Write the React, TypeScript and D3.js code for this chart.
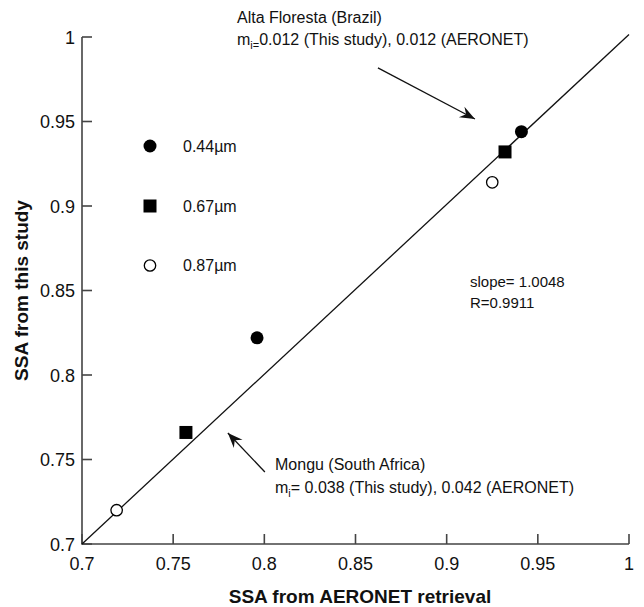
import React from 'react';
import * as d3 from 'd3';

// SSA values (x: AERONET retrieval, y: this study)
const aeronet044 = [0.796, 0.941];
const study044 = [0.822, 0.944];
const aeronet067 = [0.757, 0.932];
const study067 = [0.766, 0.932];
const aeronet087 = [0.719, 0.925];
const study087 = [0.72, 0.914];

const tickValues = [0.7, 0.75, 0.8, 0.85, 0.9, 0.95, 1];
const legendLabels = ['0.44\u00b5m', '0.67\u00b5m', '0.87\u00b5m'];
const legendY = [0.9355, 0.9, 0.8648];

const slope = 1.0048;
const rValue = 0.9911;

const W = 644;
const H = 607;
const FONT = '"Liberation Sans", Arial, Helvetica, sans-serif';

const arrowHead = (x1: number, y1: number, x2: number, y2: number) => {
  const a = Math.atan2(y2 - y1, x2 - x1);
  const len = 15;
  const wid = 6;
  const back = 10;
  const p = (d: number, s: number) => [
    x2 - d * Math.cos(a) - s * Math.sin(a),
    y2 - d * Math.sin(a) + s * Math.cos(a),
  ];
  const l = p(len, wid);
  const r = p(len, -wid);
  const m = p(back, 0);
  return `M${x2},${y2}L${l[0]},${l[1]}L${m[0]},${m[1]}L${r[0]},${r[1]}Z`;
};

export default function App() {
  const x = d3.scaleLinear().domain([0.7, 1]).range([82, 629]);
  const y = d3.scaleLinear().domain([0.7, 1]).range([544, 37]);
  const fmt = (v: number) => String(+v.toFixed(2));

  const fit = d3
    .line<number>()
    .x((d) => x(d))
    .y((d) => y(slope * (d - 0.7) + 0.7));

  const alta = { x1: 0.8623, y1: 0.9817, x2: 0.9155, y2: 0.9515 };
  const mongu = { x1: 0.8003, y1: 0.7426, x2: 0.7800, y2: 0.7657 };

  const circleR = 6.5;
  const sq = 13;

  return (
    <svg
      width={W}
      height={H}
      style={{ position: 'absolute', left: 0, top: 0, background: '#fff' }}
      fontFamily={FONT}
    >
      {/* axes */}
      <path
        d={`M${x(0.7)},${y(1)}V${y(0.7)}H${x(1)}`}
        fill="none"
        stroke="#444"
        strokeWidth={1.6}
      />
      {tickValues.map((v) => (
        <g key={'y' + v}>
          <line x1={x(0.7)} x2={x(0.7) + 10} y1={y(v)} y2={y(v)} stroke="#444" strokeWidth={1.6} />
          <text x={x(0.7) - 7} y={y(v) + 6.5} textAnchor="end" fontSize={18} fill="#111">
            {fmt(v)}
          </text>
        </g>
      ))}
      {tickValues.map((v) => (
        <g key={'x' + v}>
          <line x1={x(v)} x2={x(v)} y1={y(0.7)} y2={y(0.7) - 10} stroke="#444" strokeWidth={1.6} />
          <text x={x(v)} y={y(0.7) + 26} textAnchor="middle" fontSize={18} fill="#111">
            {fmt(v)}
          </text>
        </g>
      ))}
      <text x={360} y={603} textAnchor="middle" fontSize={19} fontWeight="bold" fill="#111">
        SSA from AERONET retrieval
      </text>
      <text
        transform={`translate(28,${y(0.85)}) rotate(-90)`}
        textAnchor="middle"
        fontSize={19}
        fontWeight="bold"
        fill="#111"
      >
        SSA from this study
      </text>

      {/* regression line */}
      <path d={fit([0.7, 1]) || ''} fill="none" stroke="#111" strokeWidth={1.3} />

      {/* data */}
      {aeronet044.map((v, i) => (
        <circle key={'c' + i} cx={x(v)} cy={y(study044[i])} r={circleR} fill="#000" />
      ))}
      {aeronet067.map((v, i) => (
        <rect key={'s' + i} x={x(v) - sq / 2} y={y(study067[i]) - sq / 2} width={sq} height={sq} fill="#000" />
      ))}
      {aeronet087.map((v, i) => (
        <circle key={'o' + i} cx={x(v)} cy={y(study087[i])} r={circleR - 0.8} fill="#fff" stroke="#000" strokeWidth={1.3} />
      ))}

      {/* legend */}
      <circle cx={150} cy={y(legendY[0])} r={circleR} fill="#000" />
      <rect x={150 - sq / 2} y={y(legendY[1]) - sq / 2} width={sq} height={sq} fill="#000" />
      <circle cx={150} cy={y(legendY[2])} r={circleR - 0.8} fill="#fff" stroke="#000" strokeWidth={1.3} />
      {legendLabels.map((t, i) => (
        <text key={t} x={183} y={y(legendY[i]) + 6} fontSize={16} fill="#111">
          {t}
        </text>
      ))}

      {/* annotations */}
      <text x={237} y={23} fontSize={16} fill="#111">Alta Floresta (Brazil)</text>
      <text x={237} y={45} fontSize={16} fill="#111">
        m<tspan fontSize={11} dy={4}>i=</tspan>
        <tspan dy={-4}>0.012 (This study), 0.012 (AERONET)</tspan>
      </text>
      <line x1={x(alta.x1)} y1={y(alta.y1)} x2={x(alta.x2)} y2={y(alta.y2)} stroke="#111" strokeWidth={1.3} />
      <path d={arrowHead(x(alta.x1), y(alta.y1), x(alta.x2), y(alta.y2))} fill="#111" />

      <text x={275} y={470} fontSize={16} fill="#111">Mongu (South Africa)</text>
      <text x={275} y={493} fontSize={16} fill="#111">
        m<tspan fontSize={11} dy={4}>i</tspan>
        <tspan dy={-4}>= 0.038 (This study), 0.042 (AERONET)</tspan>
      </text>
      <line x1={x(mongu.x1)} y1={y(mongu.y1)} x2={x(mongu.x2)} y2={y(mongu.y2)} stroke="#111" strokeWidth={1.3} />
      <path d={arrowHead(x(mongu.x1), y(mongu.y1), x(mongu.x2), y(mongu.y2))} fill="#111" />

      <text x={470} y={287} fontSize={15} fill="#111">{`slope= ${slope}`}</text>
      <text x={470} y={308} fontSize={15} fill="#111">{`R=${rValue}`}</text>
    </svg>
  );
}
